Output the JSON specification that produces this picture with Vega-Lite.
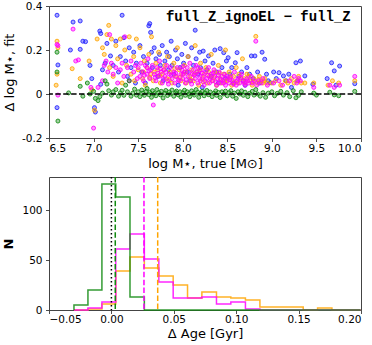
{
"$schema": "https://vega.github.io/schema/vega-lite/v6.json",
"padding": {"left": 2, "top": 0, "right": 1, "bottom": 1},
"bounds": "flush",
"spacing": 39,
"config": {
 "font": "DejaVu Sans",
 "view": {"stroke": "#444", "strokeWidth": 1},
 "axis": {"domain": false, "grid": false, "tickSize": 3.5, "tickColor": "#222", "tickWidth": 0.8, "labelFontSize": 10.5, "labelColor": "#000", "titleFontSize": 13, "titleFontWeight": "normal", "titleColor": "#000", "labelPadding": 2}
},
"datasets": {
 "one": [{"k": 1}],
 "pts": [
{"x":6.59,"y":0.358,"c":"B"},{"x":6.6,"y":0.132,"c":"B"},{"x":6.59,"y":-0.062,"c":"B"},{"x":6.77,"y":0.327,"c":"B"},{"x":6.85,"y":0.332,"c":"B"},{"x":6.74,"y":0.2,"c":"B"},{"x":6.85,"y":0.203,"c":"B"},{"x":6.88,"y":0.24,"c":"B"},{"x":6.91,"y":0.238,"c":"B"},{"x":6.96,"y":0.13,"c":"B"},{"x":6.98,"y":0.07,"c":"B"},
{"x":7.01,"y":-0.062,"c":"B"},{"x":7.02,"y":-0.082,"c":"B"},{"x":7.07,"y":0.286,"c":"B"},{"x":7.08,"y":0.275,"c":"B"},{"x":7.08,"y":0.044,"c":"B"},{"x":7.1,"y":0.11,"c":"B"},{"x":7.13,"y":0.14,"c":"B"},{"x":7.15,"y":0.23,"c":"B"},{"x":7.19,"y":0.173,"c":"B"},{"x":7.22,"y":0.13,"c":"B"},{"x":7.25,"y":0.24,"c":"B"},{"x":7.28,"y":0.1,"c":"B"},{"x":7.32,"y":0.358,"c":"B"},{"x":7.34,"y":0.256,"c":"B"},{"x":7.3,"y":0.17,"c":"B"},{"x":7.36,"y":0.15,"c":"B"},{"x":7.38,"y":0.08,"c":"B"},{"x":7.4,"y":0.21,"c":"B"},{"x":7.42,"y":0.12,"c":"B"},{"x":7.45,"y":0.19,"c":"B"},{"x":7.47,"y":0.05,"c":"B"},{"x":7.48,"y":0.14,"c":"B"},
{"x":7.52,"y":0.22,"c":"B"},{"x":7.54,"y":0.1,"c":"B"},{"x":7.56,"y":0.17,"c":"B"},{"x":7.58,"y":0.05,"c":"B"},{"x":7.6,"y":0.14,"c":"B"},{"x":7.62,"y":0.31,"c":"B"},{"x":7.63,"y":0.32,"c":"B"},{"x":7.64,"y":0.28,"c":"B"},{"x":7.65,"y":0.19,"c":"B"},{"x":7.66,"y":0.12,"c":"B"},{"x":7.68,"y":0.21,"c":"B"},{"x":7.7,"y":0.16,"c":"B"},{"x":7.72,"y":0.08,"c":"B"},{"x":7.74,"y":0.18,"c":"B"},{"x":7.75,"y":0.13,"c":"B"},{"x":7.77,"y":0.22,"c":"B"},{"x":7.78,"y":0.06,"c":"B"},{"x":7.8,"y":0.15,"c":"B"},{"x":7.82,"y":0.19,"c":"B"},{"x":7.84,"y":0.11,"c":"B"},{"x":7.85,"y":0.17,"c":"B"},{"x":7.87,"y":0.24,"c":"B"},{"x":7.88,"y":0.13,"c":"B"},{"x":7.9,"y":0.09,"c":"B"},{"x":7.92,"y":0.2,"c":"B"},{"x":7.94,"y":0.16,"c":"B"},{"x":7.95,"y":0.04,"c":"B"},{"x":7.97,"y":0.12,"c":"B"},{"x":7.99,"y":0.18,"c":"B"},
{"x":8.01,"y":0.14,"c":"B"},{"x":8.03,"y":0.23,"c":"B"},{"x":8.05,"y":0.1,"c":"B"},{"x":8.06,"y":0.17,"c":"B"},{"x":8.08,"y":0.06,"c":"B"},{"x":8.1,"y":0.21,"c":"B"},{"x":8.12,"y":0.13,"c":"B"},{"x":8.14,"y":0.29,"c":"B"},{"x":8.15,"y":0.16,"c":"B"},{"x":8.17,"y":0.09,"c":"B"},{"x":8.19,"y":0.19,"c":"B"},{"x":8.2,"y":0.12,"c":"B"},{"x":8.22,"y":0.03,"c":"B"},{"x":8.23,"y":0.195,"c":"B"},{"x":8.25,"y":0.15,"c":"B"},{"x":8.27,"y":0.11,"c":"B"},{"x":8.29,"y":0.173,"c":"B"},{"x":8.32,"y":0.08,"c":"B"},{"x":8.34,"y":0.14,"c":"B"},{"x":8.36,"y":0.2,"c":"B"},{"x":8.38,"y":0.1,"c":"B"},{"x":8.4,"y":0.05,"c":"B"},{"x":8.42,"y":0.206,"c":"B"},{"x":8.44,"y":0.12,"c":"B"},{"x":8.46,"y":0.188,"c":"B"},{"x":8.48,"y":0.07,"c":"B"},{"x":8.49,"y":0.15,"c":"B"},
{"x":8.51,"y":0.165,"c":"B"},{"x":8.53,"y":0.09,"c":"B"},{"x":8.55,"y":0.12,"c":"B"},{"x":8.57,"y":0.05,"c":"B"},{"x":8.59,"y":0.142,"c":"B"},{"x":8.61,"y":0.188,"c":"B"},{"x":8.63,"y":0.08,"c":"B"},{"x":8.66,"y":0.1,"c":"B"},{"x":8.68,"y":0.06,"c":"B"},{"x":8.7,"y":0.04,"c":"B"},{"x":8.72,"y":0.12,"c":"B"},{"x":8.75,"y":0.09,"c":"B"},{"x":8.77,"y":0.173,"c":"B"},{"x":8.79,"y":0.07,"c":"B"},{"x":8.81,"y":0.173,"c":"B"},{"x":8.84,"y":0.1,"c":"B"},{"x":8.86,"y":0.05,"c":"B"},{"x":8.89,"y":0.19,"c":"B"},{"x":8.92,"y":0.158,"c":"B"},{"x":8.94,"y":0.09,"c":"B"},{"x":8.96,"y":0.06,"c":"B"},{"x":8.98,"y":0.051,"c":"B"},
{"x":9.02,"y":0.1,"c":"B"},{"x":9.05,"y":0.07,"c":"B"},{"x":9.08,"y":0.097,"c":"B"},{"x":9.13,"y":0.082,"c":"B"},{"x":9.16,"y":0.06,"c":"B"},{"x":9.19,"y":0.09,"c":"B"},{"x":9.22,"y":0.03,"c":"B"},{"x":9.27,"y":0.142,"c":"B"},{"x":9.29,"y":0.06,"c":"B"},{"x":9.32,"y":0.15,"c":"B"},{"x":9.37,"y":0.082,"c":"B"},{"x":9.46,"y":0.044,"c":"B"},{"x":9.62,"y":0.07,"c":"B"},{"x":9.67,"y":0.142,"c":"B"},{"x":9.7,"y":0.105,"c":"B"},{"x":9.72,"y":0.04,"c":"B"},{"x":9.76,"y":0.127,"c":"B"},{"x":9.93,"y":0.047,"c":"B"},
{"x":6.59,"y":0.24,"c":"O"},{"x":6.6,"y":0.21,"c":"O"},{"x":6.59,"y":0.09,"c":"O"},{"x":6.58,"y":0.04,"c":"O"},{"x":6.76,"y":0.115,"c":"O"},{"x":6.85,"y":0.07,"c":"O"},{"x":6.95,"y":0.15,"c":"O"},{"x":6.98,"y":0.02,"c":"O"},
{"x":7.01,"y":-0.074,"c":"O"},{"x":7.04,"y":0.25,"c":"O"},{"x":7.1,"y":0.21,"c":"O"},{"x":7.12,"y":0.18,"c":"O"},{"x":7.17,"y":0.312,"c":"O"},{"x":7.15,"y":0.27,"c":"O"},{"x":7.18,"y":0.12,"c":"O"},{"x":7.2,"y":0.25,"c":"O"},{"x":7.22,"y":0.08,"c":"O"},{"x":7.25,"y":0.22,"c":"O"},{"x":7.27,"y":0.16,"c":"O"},{"x":7.3,"y":0.25,"c":"O"},{"x":7.32,"y":0.05,"c":"O"},{"x":7.35,"y":0.2,"c":"O"},{"x":7.37,"y":0.13,"c":"O"},{"x":7.4,"y":0.26,"c":"O"},{"x":7.42,"y":0.09,"c":"O"},{"x":7.45,"y":0.17,"c":"O"},{"x":7.48,"y":0.25,"c":"O"},{"x":7.46,"y":0.06,"c":"O"},
{"x":7.5,"y":0.11,"c":"O"},{"x":7.52,"y":0.21,"c":"O"},{"x":7.55,"y":0.07,"c":"O"},{"x":7.57,"y":0.15,"c":"O"},{"x":7.58,"y":0.04,"c":"O"},{"x":7.6,"y":0.12,"c":"O"},{"x":7.62,"y":0.18,"c":"O"},{"x":7.64,"y":0.09,"c":"O"},{"x":7.65,"y":0.26,"c":"O"},{"x":7.67,"y":0.06,"c":"O"},{"x":7.7,"y":0.14,"c":"O"},{"x":7.72,"y":0.11,"c":"O"},{"x":7.73,"y":0.19,"c":"O"},{"x":7.75,"y":0.05,"c":"O"},{"x":7.77,"y":0.09,"c":"O"},{"x":7.8,"y":0.13,"c":"O"},{"x":7.82,"y":0.07,"c":"O"},{"x":7.83,"y":0.17,"c":"O"},{"x":7.86,"y":0.1,"c":"O"},{"x":7.88,"y":0.05,"c":"O"},{"x":7.9,"y":0.14,"c":"O"},{"x":7.92,"y":0.08,"c":"O"},{"x":7.94,"y":0.21,"c":"O"},{"x":7.96,"y":0.11,"c":"O"},{"x":7.98,"y":0.06,"c":"O"},
{"x":8.0,"y":0.09,"c":"O"},{"x":8.02,"y":0.13,"c":"O"},{"x":8.04,"y":0.05,"c":"O"},{"x":8.06,"y":0.17,"c":"O"},{"x":8.08,"y":0.08,"c":"O"},{"x":8.1,"y":0.11,"c":"O"},{"x":8.12,"y":0.06,"c":"O"},{"x":8.14,"y":0.22,"c":"O"},{"x":8.16,"y":0.1,"c":"O"},{"x":8.18,"y":0.04,"c":"O"},{"x":8.2,"y":0.14,"c":"O"},{"x":8.22,"y":0.07,"c":"O"},{"x":8.24,"y":0.09,"c":"O"},{"x":8.26,"y":0.12,"c":"O"},{"x":8.28,"y":0.05,"c":"O"},{"x":8.3,"y":0.08,"c":"O"},{"x":8.32,"y":0.18,"c":"O"},{"x":8.34,"y":0.06,"c":"O"},{"x":8.36,"y":0.1,"c":"O"},{"x":8.38,"y":0.04,"c":"O"},{"x":8.4,"y":0.13,"c":"O"},{"x":8.42,"y":0.07,"c":"O"},{"x":8.44,"y":0.05,"c":"O"},{"x":8.46,"y":0.09,"c":"O"},{"x":8.48,"y":0.2,"c":"O"},
{"x":8.5,"y":0.06,"c":"O"},{"x":8.52,"y":0.1,"c":"O"},{"x":8.55,"y":0.04,"c":"O"},{"x":8.57,"y":0.08,"c":"O"},{"x":8.6,"y":0.12,"c":"O"},{"x":8.62,"y":0.05,"c":"O"},{"x":8.65,"y":0.07,"c":"O"},{"x":8.67,"y":0.16,"c":"O"},{"x":8.7,"y":0.05,"c":"O"},{"x":8.72,"y":0.09,"c":"O"},{"x":8.75,"y":0.06,"c":"O"},{"x":8.78,"y":0.04,"c":"O"},{"x":8.8,"y":0.07,"c":"O"},{"x":8.82,"y":0.262,"c":"O"},{"x":8.84,"y":0.05,"c":"O"},{"x":8.86,"y":0.08,"c":"O"},{"x":8.88,"y":0.06,"c":"O"},{"x":8.9,"y":0.05,"c":"O"},{"x":8.92,"y":0.07,"c":"O"},
{"x":9.0,"y":0.05,"c":"O"},{"x":9.04,"y":0.06,"c":"O"},{"x":9.1,"y":0.04,"c":"O"},{"x":9.15,"y":0.06,"c":"O"},{"x":9.18,"y":0.05,"c":"O"},{"x":9.22,"y":0.07,"c":"O"},{"x":9.25,"y":0.05,"c":"O"},{"x":9.28,"y":0.06,"c":"O"},{"x":9.3,"y":0.08,"c":"O"},{"x":9.33,"y":0.05,"c":"O"},{"x":9.37,"y":0.05,"c":"O"},{"x":9.47,"y":0.05,"c":"O"},{"x":9.63,"y":0.04,"c":"O"},{"x":9.68,"y":0.06,"c":"O"},{"x":9.75,"y":0.05,"c":"O"},{"x":9.93,"y":0.06,"c":"O"},
{"x":7.56,"y":0.1,"c":"O"},{"x":7.63,"y":0.075,"c":"O"},{"x":7.68,"y":0.1,"c":"O"},{"x":7.74,"y":0.085,"c":"O"},{"x":7.79,"y":0.11,"c":"O"},{"x":7.85,"y":0.065,"c":"O"},{"x":7.91,"y":0.115,"c":"O"},{"x":7.97,"y":0.075,"c":"O"},{"x":8.03,"y":0.1,"c":"O"},{"x":8.09,"y":0.065,"c":"O"},{"x":8.13,"y":0.09,"c":"O"},{"x":8.19,"y":0.11,"c":"O"},{"x":8.23,"y":0.055,"c":"O"},{"x":8.29,"y":0.1,"c":"O"},{"x":8.35,"y":0.075,"c":"O"},{"x":8.41,"y":0.095,"c":"O"},{"x":8.47,"y":0.06,"c":"O"},{"x":8.53,"y":0.075,"c":"O"},{"x":8.58,"y":0.055,"c":"O"},{"x":8.63,"y":0.09,"c":"O"},{"x":8.69,"y":0.07,"c":"O"},{"x":8.74,"y":0.08,"c":"O"},{"x":8.79,"y":0.055,"c":"O"},{"x":8.85,"y":0.065,"c":"O"},{"x":8.91,"y":0.06,"c":"O"},{"x":8.95,"y":0.05,"c":"O"},
{"x":6.59,"y":0.225,"c":"M"},{"x":6.6,"y":0.22,"c":"M"},{"x":6.77,"y":0.295,"c":"M"},{"x":6.8,"y":0.15,"c":"M"},{"x":6.83,"y":0.155,"c":"M"},{"x":6.6,"y":-0.005,"c":"M"},{"x":6.97,"y":0.03,"c":"M"},
{"x":7.0,"y":-0.155,"c":"M"},{"x":7.05,"y":0.03,"c":"M"},{"x":7.1,"y":0.06,"c":"M"},{"x":7.12,"y":0.13,"c":"M"},{"x":7.14,"y":0.15,"c":"M"},{"x":7.16,"y":0.1,"c":"M"},{"x":7.18,"y":0.27,"c":"M"},{"x":7.2,"y":0.14,"c":"M"},{"x":7.22,"y":0.09,"c":"M"},{"x":7.25,"y":0.12,"c":"M"},{"x":7.27,"y":0.05,"c":"M"},{"x":7.3,"y":0.11,"c":"M"},{"x":7.32,"y":0.14,"c":"M"},{"x":7.34,"y":0.08,"c":"M"},{"x":7.35,"y":0.26,"c":"M"},{"x":7.38,"y":0.12,"c":"M"},{"x":7.4,"y":0.06,"c":"M"},{"x":7.42,"y":0.15,"c":"M"},{"x":7.45,"y":0.1,"c":"M"},{"x":7.47,"y":0.13,"c":"M"},{"x":7.49,"y":0.07,"c":"M"},
{"x":7.5,"y":0.12,"c":"M"},{"x":7.52,"y":0.08,"c":"M"},{"x":7.53,"y":0.14,"c":"M"},{"x":7.55,"y":0.1,"c":"M"},{"x":7.56,"y":0.06,"c":"M"},{"x":7.58,"y":0.13,"c":"M"},{"x":7.6,"y":0.09,"c":"M"},{"x":7.61,"y":0.16,"c":"M"},{"x":7.63,"y":0.07,"c":"M"},{"x":7.64,"y":0.11,"c":"M"},{"x":7.66,"y":0.13,"c":"M"},{"x":7.67,"y":-0.05,"c":"M"},{"x":7.68,"y":0.09,"c":"M"},{"x":7.7,"y":0.06,"c":"M"},{"x":7.71,"y":0.12,"c":"M"},{"x":7.73,"y":0.08,"c":"M"},{"x":7.74,"y":0.15,"c":"M"},{"x":7.76,"y":0.1,"c":"M"},{"x":7.77,"y":0.05,"c":"M"},{"x":7.79,"y":0.11,"c":"M"},{"x":7.8,"y":0.08,"c":"M"},{"x":7.82,"y":0.13,"c":"M"},{"x":7.83,"y":0.06,"c":"M"},{"x":7.85,"y":0.09,"c":"M"},{"x":7.86,"y":0.12,"c":"M"},{"x":7.88,"y":0.07,"c":"M"},{"x":7.9,"y":0.1,"c":"M"},{"x":7.91,"y":0.05,"c":"M"},{"x":7.93,"y":0.08,"c":"M"},{"x":7.94,"y":0.12,"c":"M"},{"x":7.96,"y":0.06,"c":"M"},{"x":7.98,"y":0.09,"c":"M"},{"x":7.99,"y":0.11,"c":"M"},
{"x":8.0,"y":0.07,"c":"M"},{"x":8.02,"y":0.1,"c":"M"},{"x":8.03,"y":0.05,"c":"M"},{"x":8.05,"y":0.12,"c":"M"},{"x":8.06,"y":0.08,"c":"M"},{"x":8.08,"y":0.14,"c":"M"},{"x":8.09,"y":0.06,"c":"M"},{"x":8.11,"y":0.09,"c":"M"},{"x":8.12,"y":0.11,"c":"M"},{"x":8.14,"y":0.07,"c":"M"},{"x":8.15,"y":0.13,"c":"M"},{"x":8.17,"y":0.05,"c":"M"},{"x":8.18,"y":0.09,"c":"M"},{"x":8.2,"y":0.06,"c":"M"},{"x":8.21,"y":0.11,"c":"M"},{"x":8.23,"y":0.08,"c":"M"},{"x":8.24,"y":0.04,"c":"M"},{"x":8.26,"y":0.1,"c":"M"},{"x":8.27,"y":0.07,"c":"M"},{"x":8.29,"y":0.12,"c":"M"},{"x":8.3,"y":0.05,"c":"M"},{"x":8.32,"y":0.09,"c":"M"},{"x":8.33,"y":0.06,"c":"M"},{"x":8.35,"y":0.11,"c":"M"},{"x":8.36,"y":0.08,"c":"M"},{"x":8.38,"y":0.04,"c":"M"},{"x":8.39,"y":0.07,"c":"M"},{"x":8.41,"y":0.1,"c":"M"},{"x":8.42,"y":0.05,"c":"M"},{"x":8.44,"y":0.08,"c":"M"},{"x":8.45,"y":0.06,"c":"M"},{"x":8.47,"y":0.09,"c":"M"},{"x":8.48,"y":0.04,"c":"M"},{"x":8.5,"y":0.07,"c":"M"},
{"x":8.52,"y":0.05,"c":"M"},{"x":8.54,"y":0.08,"c":"M"},{"x":8.56,"y":0.06,"c":"M"},{"x":8.58,"y":0.1,"c":"M"},{"x":8.6,"y":0.04,"c":"M"},{"x":8.62,"y":0.07,"c":"M"},{"x":8.64,"y":0.05,"c":"M"},{"x":8.66,"y":0.09,"c":"M"},{"x":8.68,"y":0.06,"c":"M"},{"x":8.7,"y":0.04,"c":"M"},{"x":8.72,"y":0.07,"c":"M"},{"x":8.74,"y":0.05,"c":"M"},{"x":8.77,"y":0.08,"c":"M"},{"x":8.8,"y":0.06,"c":"M"},{"x":8.82,"y":0.24,"c":"M"},{"x":8.83,"y":0.04,"c":"M"},{"x":8.85,"y":0.06,"c":"M"},{"x":8.88,"y":0.05,"c":"M"},{"x":8.9,"y":0.07,"c":"M"},{"x":8.95,"y":0.04,"c":"M"},
{"x":9.02,"y":0.05,"c":"M"},{"x":9.08,"y":0.06,"c":"M"},{"x":9.12,"y":0.04,"c":"M"},{"x":9.2,"y":0.06,"c":"M"},{"x":9.25,"y":0.08,"c":"M"},{"x":9.28,"y":0.05,"c":"M"},{"x":9.3,"y":0.07,"c":"M"},{"x":9.32,"y":0.06,"c":"M"},{"x":9.47,"y":0.03,"c":"M"},{"x":9.65,"y":0.04,"c":"M"},{"x":9.7,"y":0.03,"c":"M"},{"x":9.76,"y":0.04,"c":"M"},{"x":9.93,"y":0.08,"c":"M"},
{"x":7.57,"y":0.085,"c":"M"},{"x":7.62,"y":0.105,"c":"M"},{"x":7.69,"y":0.075,"c":"M"},{"x":7.72,"y":0.095,"c":"M"},{"x":7.78,"y":0.07,"c":"M"},{"x":7.81,"y":0.1,"c":"M"},{"x":7.84,"y":0.045,"c":"M"},{"x":7.87,"y":0.085,"c":"M"},{"x":7.92,"y":0.095,"c":"M"},{"x":7.95,"y":0.065,"c":"M"},{"x":8.01,"y":0.09,"c":"M"},{"x":8.04,"y":0.065,"c":"M"},{"x":8.07,"y":0.1,"c":"M"},{"x":8.1,"y":0.045,"c":"M"},{"x":8.13,"y":0.085,"c":"M"},{"x":8.16,"y":0.1,"c":"M"},{"x":8.19,"y":0.07,"c":"M"},{"x":8.22,"y":0.095,"c":"M"},{"x":8.25,"y":0.06,"c":"M"},{"x":8.28,"y":0.085,"c":"M"},{"x":8.31,"y":0.07,"c":"M"},{"x":8.34,"y":0.095,"c":"M"},{"x":8.37,"y":0.055,"c":"M"},{"x":8.4,"y":0.085,"c":"M"},{"x":8.43,"y":0.065,"c":"M"},{"x":8.46,"y":0.05,"c":"M"},{"x":8.49,"y":0.08,"c":"M"},{"x":8.53,"y":0.065,"c":"M"},{"x":8.57,"y":0.045,"c":"M"},{"x":8.61,"y":0.06,"c":"M"},{"x":8.65,"y":0.075,"c":"M"},{"x":8.69,"y":0.05,"c":"M"},{"x":8.73,"y":0.06,"c":"M"},{"x":8.78,"y":0.05,"c":"M"},{"x":7.6,"y":0.12,"c":"M"},{"x":7.75,"y":0.115,"c":"M"},{"x":8.0,"y":0.125,"c":"M"},{"x":8.17,"y":0.12,"c":"M"},
{"x":6.59,"y":0.19,"c":"G"},{"x":6.59,"y":0.1,"c":"G"},{"x":6.6,"y":-0.123,"c":"G"},{"x":6.72,"y":0.005,"c":"G"},{"x":6.85,"y":0.035,"c":"G"},{"x":6.88,"y":-0.01,"c":"G"},{"x":6.93,"y":0.05,"c":"G"},{"x":6.96,"y":0.0,"c":"G"},{"x":7.0,"y":0.012,"c":"G"},{"x":7.02,"y":-0.02,"c":"G"},{"x":7.05,"y":-0.03,"c":"G"},{"x":7.07,"y":-0.012,"c":"G"},{"x":7.1,"y":0.004,"c":"G"},{"x":7.13,"y":0.06,"c":"G"},{"x":7.15,"y":0.045,"c":"G"},{"x":7.17,"y":0.015,"c":"G"},{"x":7.2,"y":-0.005,"c":"G"},{"x":7.22,"y":0.01,"c":"G"},{"x":7.25,"y":0.02,"c":"G"},{"x":7.28,"y":-0.01,"c":"G"},{"x":7.3,"y":0.005,"c":"G"},{"x":7.32,"y":0.017,"c":"G"},{"x":7.34,"y":-0.006,"c":"G"},{"x":7.36,"y":0.04,"c":"G"},{"x":7.38,"y":0.01,"c":"G"},{"x":7.4,"y":0.06,"c":"G"},{"x":7.42,"y":-0.01,"c":"G"},{"x":7.44,"y":0.004,"c":"G"},{"x":7.46,"y":0.022,"c":"G"},{"x":7.48,"y":-0.005,"c":"G"},
{"x":7.5,"y":0.01,"c":"G"},{"x":7.52,"y":-0.012,"c":"G"},{"x":7.54,"y":0.018,"c":"G"},{"x":7.55,"y":0.003,"c":"G"},{"x":7.57,"y":-0.006,"c":"G"},{"x":7.59,"y":0.012,"c":"G"},{"x":7.6,"y":0.025,"c":"G"},{"x":7.62,"y":-0.003,"c":"G"},{"x":7.63,"y":0.008,"c":"G"},{"x":7.65,"y":-0.015,"c":"G"},{"x":7.66,"y":0.015,"c":"G"},{"x":7.68,"y":0.002,"c":"G"},{"x":7.7,"y":-0.008,"c":"G"},{"x":7.71,"y":0.02,"c":"G"},{"x":7.73,"y":0.006,"c":"G"},{"x":7.75,"y":-0.004,"c":"G"},{"x":7.76,"y":0.012,"c":"G"},{"x":7.78,"y":-0.018,"c":"G"},{"x":7.8,"y":0.004,"c":"G"},{"x":7.81,"y":0.016,"c":"G"},{"x":7.83,"y":-0.007,"c":"G"},{"x":7.85,"y":0.009,"c":"G"},{"x":7.86,"y":0.0,"c":"G"},{"x":7.88,"y":0.018,"c":"G"},{"x":7.9,"y":-0.01,"c":"G"},{"x":7.92,"y":0.006,"c":"G"},{"x":7.93,"y":0.013,"c":"G"},{"x":7.95,"y":-0.004,"c":"G"},{"x":7.97,"y":0.01,"c":"G"},{"x":7.98,"y":-0.014,"c":"G"},
{"x":8.0,"y":0.005,"c":"G"},{"x":8.02,"y":0.017,"c":"G"},{"x":8.03,"y":-0.006,"c":"G"},{"x":8.05,"y":0.01,"c":"G"},{"x":8.07,"y":0.0,"c":"G"},{"x":8.08,"y":-0.012,"c":"G"},{"x":8.1,"y":0.014,"c":"G"},{"x":8.12,"y":0.004,"c":"G"},{"x":8.13,"y":-0.005,"c":"G"},{"x":8.15,"y":0.02,"c":"G"},{"x":8.17,"y":0.008,"c":"G"},{"x":8.18,"y":-0.015,"c":"G"},{"x":8.2,"y":0.002,"c":"G"},{"x":8.22,"y":0.012,"c":"G"},{"x":8.24,"y":-0.008,"c":"G"},{"x":8.25,"y":0.005,"c":"G"},{"x":8.27,"y":0.016,"c":"G"},{"x":8.29,"y":-0.003,"c":"G"},{"x":8.31,"y":0.009,"c":"G"},{"x":8.33,"y":-0.012,"c":"G"},{"x":8.35,"y":0.003,"c":"G"},{"x":8.37,"y":0.014,"c":"G"},{"x":8.38,"y":-0.006,"c":"G"},{"x":8.4,"y":0.007,"c":"G"},{"x":8.42,"y":-0.016,"c":"G"},{"x":8.44,"y":0.01,"c":"G"},{"x":8.46,"y":0.0,"c":"G"},{"x":8.48,"y":0.013,"c":"G"},{"x":8.5,"y":-0.008,"c":"G"},
{"x":8.52,"y":0.006,"c":"G"},{"x":8.54,"y":0.015,"c":"G"},{"x":8.56,"y":-0.01,"c":"G"},{"x":8.58,"y":0.004,"c":"G"},{"x":8.6,"y":-0.02,"c":"G"},{"x":8.62,"y":0.01,"c":"G"},{"x":8.64,"y":0.0,"c":"G"},{"x":8.66,"y":0.014,"c":"G"},{"x":8.68,"y":-0.006,"c":"G"},{"x":8.7,"y":0.008,"c":"G"},{"x":8.73,"y":-0.012,"c":"G"},{"x":8.75,"y":0.003,"c":"G"},{"x":8.78,"y":0.012,"c":"G"},{"x":8.8,"y":-0.005,"c":"G"},{"x":8.82,"y":0.02,"c":"G"},{"x":8.84,"y":0.0,"c":"G"},{"x":8.87,"y":-0.01,"c":"G"},{"x":8.9,"y":0.006,"c":"G"},{"x":8.93,"y":-0.015,"c":"G"},{"x":8.96,"y":0.004,"c":"G"},
{"x":9.0,"y":0.01,"c":"G"},{"x":9.03,"y":-0.008,"c":"G"},{"x":9.06,"y":0.003,"c":"G"},{"x":9.1,"y":0.012,"c":"G"},{"x":9.13,"y":-0.005,"c":"G"},{"x":9.17,"y":0.006,"c":"G"},{"x":9.2,"y":-0.012,"c":"G"},{"x":9.24,"y":0.015,"c":"G"},{"x":9.27,"y":-0.017,"c":"G"},{"x":9.3,"y":-0.006,"c":"G"},{"x":9.33,"y":0.01,"c":"G"},{"x":9.47,"y":0.004,"c":"G"},{"x":9.5,"y":-0.005,"c":"G"},{"x":9.65,"y":0.008,"c":"G"},{"x":9.7,"y":-0.004,"c":"G"},{"x":9.75,"y":-0.008,"c":"G"},{"x":9.93,"y":0.012,"c":"G"}
 ],
 "hist": [
{"s":"O","i":0,"x":-0.03,"n":0},{"s":"O","i":1,"x":-0.03,"n":0},{"s":"O","i":2,"x":-0.0188,"n":1},{"s":"O","i":3,"x":-0.0076,"n":6},{"s":"O","i":4,"x":0.0035,"n":39},{"s":"O","i":5,"x":0.0149,"n":53},{"s":"O","i":6,"x":0.0264,"n":42},{"s":"O","i":7,"x":0.038,"n":34},{"s":"O","i":8,"x":0.0495,"n":25},{"s":"O","i":9,"x":0.061,"n":12},{"s":"O","i":10,"x":0.0725,"n":18},{"s":"O","i":11,"x":0.0842,"n":13},{"s":"O","i":12,"x":0.0957,"n":12},{"s":"O","i":13,"x":0.1074,"n":10},{"s":"O","i":14,"x":0.119,"n":3},{"s":"O","i":15,"x":0.1305,"n":3},{"s":"O","i":16,"x":0.142,"n":3},{"s":"O","i":17,"x":0.1537,"n":0},{"s":"O","i":18,"x":0.1652,"n":2},{"s":"O","i":19,"x":0.1767,"n":0},{"s":"O","i":20,"x":0.1882,"n":0},{"s":"O","i":21,"x":0.1997,"n":0},
{"s":"M","i":0,"x":-0.03,"n":0},{"s":"M","i":1,"x":-0.03,"n":0},{"s":"M","i":2,"x":-0.0188,"n":2},{"s":"M","i":3,"x":-0.0076,"n":8},{"s":"M","i":4,"x":0.0035,"n":61},{"s":"M","i":5,"x":0.0149,"n":76},{"s":"M","i":6,"x":0.0264,"n":51},{"s":"M","i":7,"x":0.038,"n":28},{"s":"M","i":8,"x":0.0495,"n":12},{"s":"M","i":9,"x":0.061,"n":12},{"s":"M","i":10,"x":0.0725,"n":13},{"s":"M","i":11,"x":0.0842,"n":6},{"s":"M","i":12,"x":0.0957,"n":8},{"s":"M","i":13,"x":0.1074,"n":1},{"s":"M","i":14,"x":0.119,"n":0},{"s":"M","i":15,"x":0.1305,"n":0},{"s":"M","i":16,"x":0.142,"n":0},{"s":"M","i":17,"x":0.1537,"n":0},{"s":"M","i":18,"x":0.1652,"n":0},{"s":"M","i":19,"x":0.1767,"n":0},{"s":"M","i":20,"x":0.1882,"n":0},{"s":"M","i":21,"x":0.1997,"n":0},
{"s":"G","i":0,"x":-0.03,"n":0},{"s":"G","i":1,"x":-0.03,"n":5},{"s":"G","i":2,"x":-0.0188,"n":20},{"s":"G","i":3,"x":-0.0076,"n":126},{"s":"G","i":4,"x":0.0035,"n":113},{"s":"G","i":5,"x":0.0149,"n":13},{"s":"G","i":6,"x":0.0264,"n":0},{"s":"G","i":7,"x":0.038,"n":0},{"s":"G","i":8,"x":0.0495,"n":0},{"s":"G","i":9,"x":0.061,"n":0},{"s":"G","i":10,"x":0.0725,"n":0},{"s":"G","i":11,"x":0.0842,"n":0},{"s":"G","i":12,"x":0.0957,"n":0},{"s":"G","i":13,"x":0.1074,"n":0},{"s":"G","i":14,"x":0.119,"n":0},{"s":"G","i":15,"x":0.1305,"n":0},{"s":"G","i":16,"x":0.142,"n":0},{"s":"G","i":17,"x":0.1537,"n":0},{"s":"G","i":18,"x":0.1652,"n":0},{"s":"G","i":19,"x":0.1767,"n":0},{"s":"G","i":20,"x":0.1882,"n":0},{"s":"G","i":21,"x":0.1997,"n":0}
 ],
 "means": [{"s":"O","x":0.0371},{"s":"M","x":0.0261},{"s":"G","x":0.0031}]
},
"vconcat": [
 {
  "width": 312, "height": 132,
  "layer": [
   {
    "data": {"name": "pts"},
    "mark": {"type": "circle", "size": 16, "strokeWidth": 1, "fillOpacity": 0.4, "strokeOpacity": 0.85},
    "encoding": {
     "x": {"field": "x", "type": "quantitative", "scale": {"domain": [6.5, 10], "nice": false}, "axis": {"values": [6.5,7,7.5,8,8.5,9,9.5,10], "format": ".1f", "title": "log M⋆, true [M⊙]", "titlePadding": 3}},
     "y": {"field": "y", "type": "quantitative", "scale": {"domain": [-0.2, 0.4], "nice": false}, "axis": {"values": [-0.2,0,0.2,0.4], "labelExpr": "datum.value == 0 ? '0' : (datum.value < 0 ? '-' + format(-datum.value, '.1f') : format(datum.value, '.1f'))", "title": "Δ log M⋆, fit", "labelPadding": 3.5, "titlePadding": 5}},
     "color": {"field": "c", "type": "nominal", "scale": {"domain": ["B","O","M","G"], "range": ["#2020ff","#ffa500","#ff00ff","#108a10"]}, "legend": null},
     "stroke": {"field": "c", "type": "nominal", "scale": {"domain": ["B","O","M","G"], "range": ["#2020ff","#ffa500","#ff00ff","#108a10"]}, "legend": null}
    }
   },
   {
    "data": {"name": "one"},
    "mark": {"type": "rule", "color": "black", "strokeWidth": 1.5, "strokeDash": [5.5, 2.4]},
    "encoding": {"y": {"datum": 0}}
   },
   {
    "data": {"name": "one"},
    "mark": {"type": "text", "font": "Liberation Mono", "fontWeight": "bold", "fontSize": 14, "align": "right", "baseline": "alphabetic", "color": "black"},
    "encoding": {"x": {"datum": 9.885}, "y": {"datum": 0.332}, "text": {"value": "full_Z_ignoEL − full_Z"}}
   }
  ]
 },
 {
  "width": 312, "height": 133,
  "layer": [
   {
    "data": {"name": "hist"},
    "mark": {"type": "line", "interpolate": "step-after", "strokeWidth": 1.5, "opacity": 0.85},
    "encoding": {
     "x": {"field": "x", "type": "quantitative", "scale": {"domain": [-0.05, 0.2], "nice": false}, "axis": {"values": [-0.05,0,0.05,0.1,0.15,0.2], "format": ".2f", "title": "Δ Age [Gyr]", "titlePadding": 2, "labelPadding": 1}},
     "y": {"field": "n", "type": "quantitative", "scale": {"domain": [0, 133], "nice": false}, "axis": {"values": [0,50,100], "title": "N", "titleFontWeight": "bold", "labelPadding": 3.5, "titlePadding": 6}},
     "color": {"field": "s", "type": "nominal", "scale": {"domain": ["O","M","G"], "range": ["#ffa500","#ff00ff","#1a8a1a"]}, "legend": null},
     "order": {"field": "i"}
    }
   },
   {
    "data": {"name": "means"},
    "mark": {"type": "rule", "strokeWidth": 1.5, "strokeDash": [5.5, 2.4]},
    "encoding": {
     "x": {"field": "x", "type": "quantitative"},
     "color": {"field": "s", "type": "nominal", "legend": null}
    }
   },
   {
    "data": {"name": "one"},
    "mark": {"type": "rule", "color": "black", "strokeWidth": 1.5, "strokeDash": [1.5, 2.5]},
    "encoding": {"x": {"datum": 0}}
   }
  ]
 }
]
}
